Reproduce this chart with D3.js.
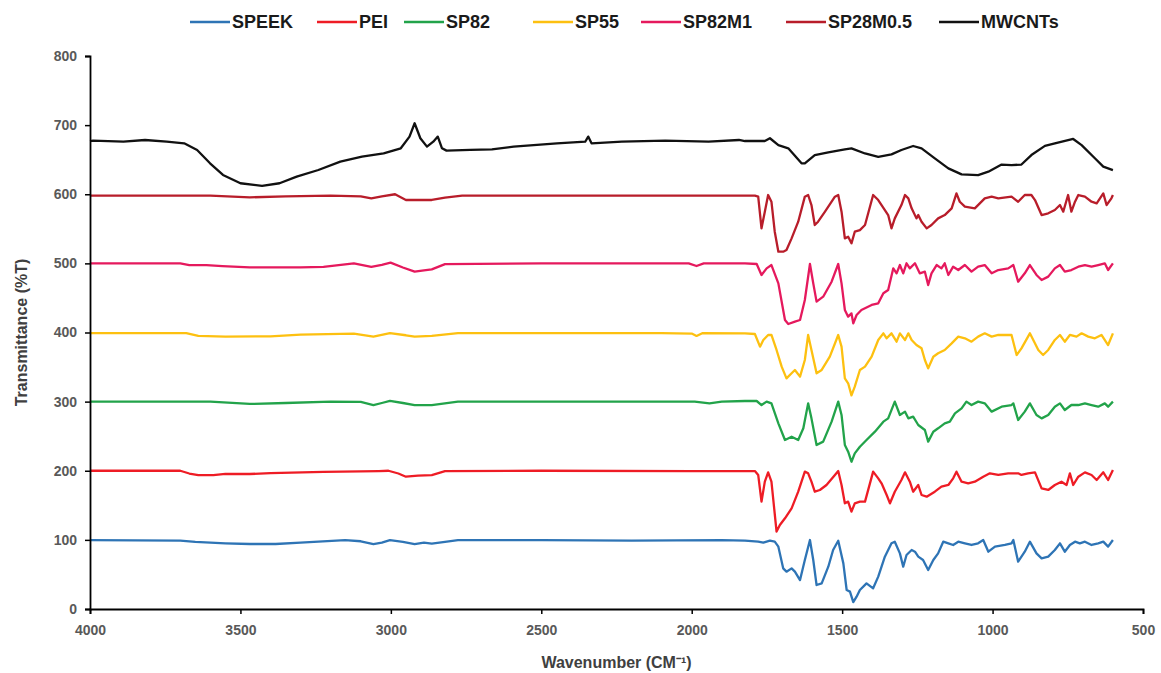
<!DOCTYPE html>
<html>
<head>
<meta charset="utf-8">
<script src="https://cdn.jsdelivr.net/npm/d3@7"></script>
<style>
  html, body { margin: 0; padding: 0; background: #fff; }
  svg { display: block; }
  text { font-family: "Liberation Sans", Arial, sans-serif; }
</style>
</head>
<body>
<svg id="chart" width="1161" height="673"></svg>
<script>
// FTIR spectra, stacked with vertical offsets. Each point: [wavenumber (cm-1), transmittance]
const seriesNames = ["SPEEK", "PEI", "SP82", "SP55", "SP82M1", "SP28M0.5", "MWCNTs"];
const seriesColors = ["#2e74b5", "#ee1c25", "#22a34a", "#fdc010", "#e5195d", "#b81d2a", "#111111"];

const xTicks = [4000, 3500, 3000, 2500, 2000, 1500, 1000, 500];
const yTicks = [0, 100, 200, 300, 400, 500, 600, 700, 800];

const speek = [
  [4000,99.5],[3700,99],[3650,97],[3550,95],[3469,94],[3383,94],[3300,96],[3152,99.5],[3100,98],[3058,94],
  [3030,96],[3003,99.5],[2960,97],[2921,94],[2890,96],[2864,94.5],[2820,97],[2777,99.5],[2500,99.5],[2200,99],
  [1900,99.5],[1823,98.8],[1779,97.4],[1762,95.9],[1740,98.8],[1724,97.4],[1712,90.2],[1696,58.8],[1685,54],
  [1668,58.8],[1657,54],[1640,41.9],[1624,70.9],[1607,99.8],[1596,70.9],[1585,34.7],[1568,37.1],[1546,61.2],
  [1530,85.3],[1513,98.8],[1496,66],[1485,27.5],[1474,25.1],[1463,10],[1452,17.8],[1441,27.5],[1419,37.1],
  [1397,29.9],[1380,46.8],[1358,75.7],[1336,95],[1325,97.4],[1308,80.5],[1297,61.2],[1286,78.1],[1269,85.3],
  [1258,82.9],[1247,75.7],[1231,70.9],[1214,56.4],[1197,70.9],[1181,80.5],[1164,97.4],[1147,95],[1131,92.6],
  [1114,97.4],[1092,95],[1070,92.6],[1048,95],[1031,99.8],[1014,82.9],[992,90.2],[959,92.6],[937,95],[931,99.8],
  [915,68.5],[893,82.9],[876,97.4],[854,80.5],[837,73.3],[815,75.7],[793,85.3],[776,95],[760,82.9],[743,92.6],
  [726,97.4],[710,95],[693,97.4],[671,92.6],[649,95],[632,97.4],[616,90.2],[600,99.8]
];

const pei = [
  [4000,200],[3700,200],[3670,196],[3640,193.8],[3590,193.8],[3550,195.5],[3469,195.3],[3400,196.5],[3224,198.5],
  [3100,199],[3040,199.5],[3008,200],[2975,196],[2950,191.4],[2910,193],[2864,193.8],[2820,199.5],[2500,200],
  [2000,199.5],[1823,199.6],[1790,199.6],[1779,193.9],[1768,155.3],[1757,184.2],[1746,197.7],[1735,184.2],
  [1718,112],[1707,121.5],[1690,131.2],[1668,145.6],[1646,169.7],[1624,198.7],[1613,196.3],[1602,184.2],
  [1591,169.7],[1574,172.2],[1552,179.4],[1524,193.9],[1513,199.6],[1502,179.4],[1491,152.9],[1480,155.3],
  [1469,140.8],[1458,152.9],[1441,155.3],[1424,155.3],[1397,198.7],[1380,189],[1369,181.8],[1352,164.9],
  [1341,152.9],[1325,169.7],[1303,186.6],[1291,197.7],[1275,184.2],[1264,169.7],[1247,179.4],[1236,164.9],
  [1219,162.5],[1192,169.7],[1170,177],[1147,179.4],[1131,189],[1120,198.7],[1103,184.2],[1081,181.8],
  [1059,184.2],[1031,191.4],[1009,196.3],[981,193.9],[948,196.3],[915,196.3],[904,193.9],[882,196.3],
  [859,197.7],[837,174.5],[815,172.2],[793,179.4],[771,184.2],[754,179.4],[743,196.3],[732,179.4],[715,191.4],
  [693,197.7],[671,193.9],[654,186.6],[632,197.7],[616,186.6],[600,201]
];

const sp82 = [
  [4000,300],[3600,300],[3469,296.6],[3350,298],[3200,300],[3100,299.5],[3058,295],[3030,298],[3003,301],
  [2960,298],[2921,295],[2864,295],[2777,300],[2200,300],[1990,300],[1941,297.6],[1900,300],[1823,300.9],
  [1784,300.9],[1768,295.1],[1751,300],[1735,297.5],[1712,268.6],[1690,244.5],[1668,249.3],[1646,244.5],
  [1629,261.4],[1613,297.5],[1602,275.8],[1585,237.3],[1563,242.1],[1535,271],[1513,300],[1502,280.7],
  [1491,237.3],[1480,227.6],[1469,213],[1458,225.2],[1441,234.8],[1419,244.5],[1391,256.5],[1363,271],
  [1347,275.8],[1325,300],[1308,280.7],[1291,285.5],[1280,275.8],[1264,278.2],[1247,266.2],[1225,259],
  [1214,242.1],[1197,256.5],[1181,261.4],[1159,268.6],[1142,271],[1125,283.1],[1103,290.3],[1087,300],
  [1070,295.1],[1048,300],[1026,297.5],[1003,285.5],[970,292.7],[937,295.1],[931,297.5],[915,273.4],
  [893,285.5],[876,297.5],[854,280.7],[837,275.8],[815,280.7],[793,292.7],[776,297.5],[760,287.9],[738,295.1],
  [715,295.1],[693,297.5],[671,295.1],[649,292.7],[627,297.5],[616,292.7],[600,300]
];

const sp55 = [
  [4000,399],[3680,399],[3640,395],[3550,394],[3400,394.5],[3300,397],[3123,398.5],[3058,394],[3003,399],
  [2950,396],[2921,394],[2864,395],[2777,399],[2100,399],[2000,398.5],[1984,395],[1965,399],[1823,398.8],
  [1790,397.8],[1773,379.5],[1762,389.2],[1746,396.4],[1735,396.4],[1718,374.7],[1701,350.6],[1685,333.7],
  [1668,341],[1657,345.8],[1640,336.1],[1624,360.2],[1613,396.4],[1602,374.7],[1585,341],[1568,345.8],
  [1541,365],[1513,396.4],[1502,379.5],[1491,333.7],[1480,326.5],[1469,309],[1458,321.6],[1441,345.8],
  [1424,350.6],[1402,365],[1380,389.2],[1363,398.8],[1352,391.6],[1336,398.8],[1319,386.7],[1308,398.8],
  [1291,389.2],[1280,398.8],[1269,389.2],[1253,381.9],[1236,377.1],[1225,360.2],[1214,348.2],[1197,365],
  [1181,369.9],[1159,374.7],[1136,384.3],[1114,394],[1092,391.6],[1070,386.7],[1048,394],[1026,398.8],
  [1003,394],[981,396.4],[937,396.4],[920,367.5],[904,377.1],[876,398.8],[848,374.7],[832,367.5],[815,374.7],
  [793,389.2],[776,396.4],[760,386.7],[743,396.4],[721,394],[704,398.8],[682,394],[660,391.6],[638,396.4],
  [616,381.9],[600,398.8]
];

const sp82m1 = [
  [4000,500],[3700,500],[3670,497.5],[3613,497.5],[3560,496],[3469,494.3],[3300,494.3],[3224,495],[3123,500],
  [3065,495],[3030,498],[3001,501],[2960,494],[2921,488],[2890,490],[2864,491.4],[2820,499],[2500,500],
  [2010,500],[1984,496.2],[1960,500],[1823,500.1],[1784,499.1],[1768,483.2],[1751,492.8],[1735,497.6],
  [1712,471.1],[1690,418.1],[1679,412.3],[1657,415.7],[1640,418.1],[1624,447],[1607,499.1],[1596,471.1],
  [1585,444.6],[1563,451.8],[1535,473.5],[1513,499.1],[1502,471.1],[1491,432.6],[1480,422.9],[1469,427.7],
  [1463,413.3],[1452,425.3],[1436,432.6],[1402,439.8],[1380,442.2],[1363,456.7],[1347,461.5],[1330,492.8],
  [1319,485.6],[1308,497.6],[1297,485.6],[1286,500.1],[1275,492.8],[1258,500.1],[1242,485.6],[1225,488],
  [1214,468.7],[1203,485.6],[1186,497.6],[1170,492.8],[1159,500.1],[1147,483.2],[1131,495.2],[1114,490.4],
  [1092,497.6],[1070,488],[1048,495.2],[1026,497.6],[1003,485.6],[981,490.4],[948,492.8],[931,497.6],
  [915,473.5],[893,485.6],[876,497.6],[854,483.2],[837,476],[815,480.8],[793,492.8],[776,497.6],[760,488],
  [738,490.4],[715,495.2],[693,497.6],[671,495.2],[649,497.6],[627,500.1],[616,490.4],[600,500.1]
];

const sp28m05 = [
  [4000,598],[3600,598],[3469,595.5],[3350,597],[3200,598],[3100,597],[3065,594],[3030,597],[2986,600],
  [2950,591.7],[2900,592],[2864,591.7],[2820,595],[2763,598],[2200,598],[1823,598],[1790,598],[1779,596.5],
  [1768,550.7],[1757,574.8],[1746,598.9],[1735,589.2],[1724,545.8],[1712,516.9],[1696,516.9],[1685,519.3],
  [1668,536.2],[1646,560.3],[1624,596.5],[1613,598.9],[1602,584.4],[1591,555.5],[1580,560.3],[1557,574.8],
  [1524,596.5],[1513,598.9],[1502,574.8],[1491,536.2],[1480,538.6],[1469,529],[1458,545.8],[1441,548.2],
  [1424,555.5],[1397,598.9],[1380,591.6],[1369,584.4],[1347,569.9],[1336,550.7],[1325,565.1],[1303,584.4],
  [1291,598.9],[1280,594.1],[1269,579.6],[1253,565.1],[1247,569.9],[1236,560.3],[1219,550.7],[1203,555.5],
  [1181,565.1],[1159,569.9],[1136,579.6],[1120,601.3],[1109,589.2],[1092,582],[1059,579.6],[1026,594.1],
  [1003,596.5],[981,594.1],[937,596.5],[915,589.2],[893,598.9],[871,598.9],[859,591.6],[837,569.9],[815,572.4],
  [793,577.2],[776,584.4],[765,574.8],[749,598.9],[738,574.8],[726,589.2],[715,598.9],[693,596.5],[671,589.2],
  [654,586.8],[632,601.3],[621,584.4],[605,594.1],[600,598.9]
];

const mwcnts = [
  [4000,677],[3990,677.6],[3889,676.1],[3817,678.5],[3745,676],[3687,673.7],[3644,664],[3601,644.8],[3558,627.9],
  [3500,615.9],[3428,612],[3370,615.9],[3313,625.5],[3241,635.1],[3168,647.2],[3096,654.4],[3024,659.2],
  [2967,666.5],[2938,683.4],[2921,702.7],[2902,681],[2880,668.9],[2859,676.1],[2844,683.4],[2830,666.5],
  [2815,663.1],[2736,664.1],[2664,665],[2592,668.9],[2448,673.7],[2354,676],[2344,683.4],[2333,673.7],
  [2232,676],[2088,677.6],[1944,676],[1843,678.5],[1823,677],[1757,677],[1740,681],[1712,671],[1679,666.4],
  [1635,644.7],[1624,644.7],[1591,656.7],[1546,660.6],[1491,665],[1469,666.4],[1424,659],[1380,654],
  [1336,657.7],[1303,664],[1264,669.8],[1236,666.4],[1192,652],[1147,637.5],[1103,628.8],[1048,627.8],
  [1014,632.6],[970,643],[937,642],[904,643],[871,656.7],[826,670],[793,673.6],[732,680],[704,671],[660,652],
  [632,640],[600,635]
];

const seriesData = [speek, pei, sp82, sp55, sp82m1, sp28m05, mwcnts];

// ---- layout ----
const svg = d3.select("#chart");
const margin = { left: 90, right: 18, top: 56, bottom: 64 };
const W = 1161, H = 673;

const x = d3.scaleLinear().domain([4000, 500]).range([margin.left, W - margin.right]);
const y = d3.scaleLinear().domain([0, 800]).range([H - margin.bottom, margin.top]);

const line = d3.line()
  .x(d => x(d[0]))
  .y(d => y(d[1]))
  .curve(d3.curveLinear);

// spectra
const plot = svg.append("g");
seriesData.forEach((data, i) => {
  plot.append("path")
    .datum(data)
    .attr("fill", "none")
    .attr("stroke", seriesColors[i])
    .attr("stroke-width", 2.3)
    .attr("stroke-linejoin", "round")
    .attr("d", line);
});

// axes
const xAxis = d3.axisBottom(x).tickValues(xTicks).tickSize(5).tickPadding(11).tickFormat(d3.format("d"));
const yAxis = d3.axisLeft(y).tickValues(yTicks).tickSize(5).tickPadding(8).tickFormat(d3.format("d"));

const gx = svg.append("g").attr("transform", `translate(0,${y(0)})`).call(xAxis);
const gy = svg.append("g").attr("transform", `translate(${x(4000)},0)`).call(yAxis);

[gx, gy].forEach(g => {
  g.select(".domain").attr("stroke", "#000").attr("stroke-width", 1.8);
  g.selectAll(".tick line").attr("stroke", "#000").attr("stroke-width", 1.5);
  g.selectAll(".tick text")
    .attr("fill", "#595959")
    .style("font-size", "14px")
    .style("font-weight", "bold")
    .style("font-family", "'Liberation Sans', Arial, sans-serif");
});

// axis titles
svg.append("text")
  .attr("x", (x(4000) + x(500)) / 2)
  .attr("y", 668)
  .attr("text-anchor", "middle")
  .attr("fill", "#404040")
  .style("font-size", "16px")
  .style("font-weight", "bold")
  .text("Wavenumber (CM⁻¹)");

svg.append("text")
  .attr("transform", `translate(27,${(y(0) + y(800)) / 2}) rotate(-90)`)
  .attr("text-anchor", "middle")
  .attr("fill", "#404040")
  .style("font-size", "16px")
  .style("font-weight", "bold")
  .text("Transmittance (%T)");

// legend across the top
const legendStarts = [190, 317, 404, 533, 641, 786, 939];
const legend = svg.append("g");
seriesNames.forEach((name, i) => {
  const lx = legendStarts[i];
  legend.append("line")
    .attr("x1", lx).attr("x2", lx + 40)
    .attr("y1", 22).attr("y2", 22)
    .attr("stroke", seriesColors[i])
    .attr("stroke-width", 2.5);
  legend.append("text")
    .attr("x", lx + 42)
    .attr("y", 28)
    .attr("fill", "#1a1a1a")
    .style("font-size", "18px")
    .style("font-weight", "bold")
    .text(name);
});
</script>
</body>
</html>
